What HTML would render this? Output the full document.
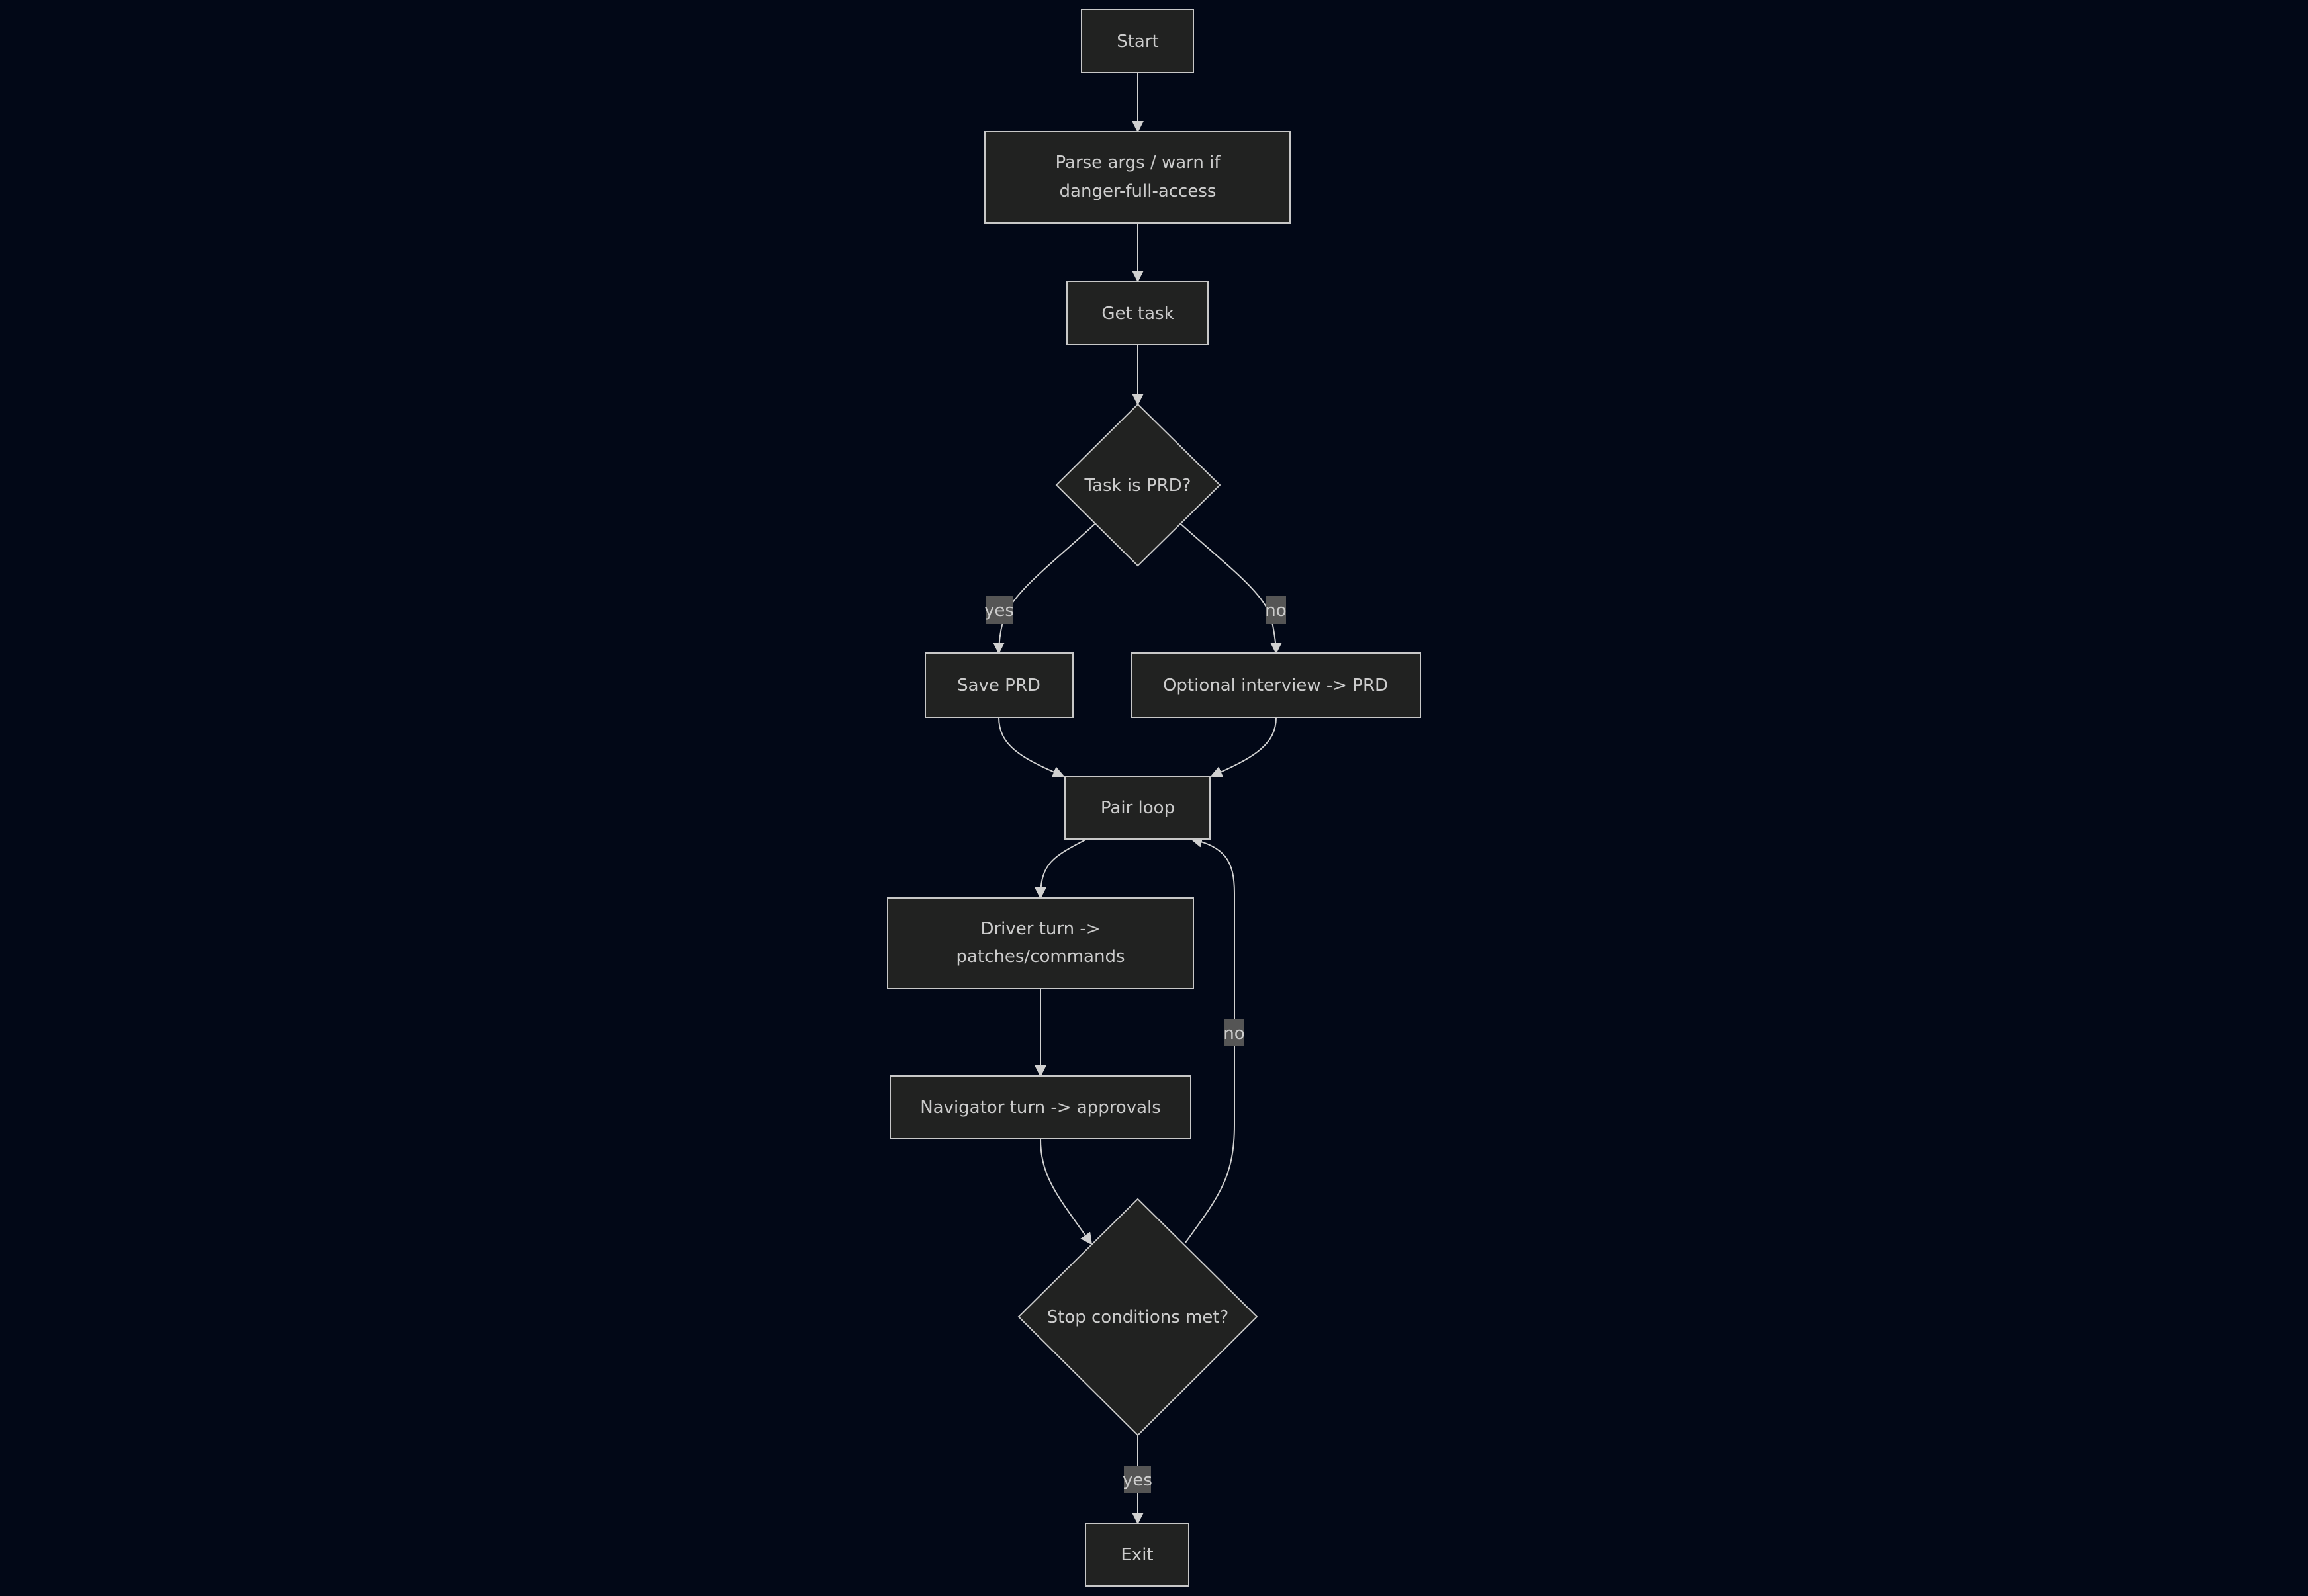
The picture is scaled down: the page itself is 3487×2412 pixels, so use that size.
<!DOCTYPE html>
<html><head><meta charset="utf-8"><style>
html,body{margin:0;padding:0;background:#020817;}
svg{display:block}
text{font-family:"DejaVu Sans","Liberation Sans",sans-serif;fill:#cccccc;font-size:26px;}
.n{fill:#212221;stroke:#c8c8c8;stroke-width:2}
.e{fill:none;stroke:#d0d0d0;stroke-width:2}
.l{fill:#555555}
</style></head><body>
<svg width="3487" height="2412" viewBox="0 0 3487 2412" xmlns="http://www.w3.org/2000/svg">
<defs><marker id="a" viewBox="0 0 10 10" refX="10" refY="5" markerWidth="9" markerHeight="9" markerUnits="userSpaceOnUse" orient="auto"><path d="M0,0L10,5L0,10z" fill="#d0d0d0"/></marker>
<marker id="b" viewBox="0 0 10 10" refX="9" refY="5" markerWidth="18" markerHeight="18" markerUnits="userSpaceOnUse" orient="auto"><path d="M0,0L10,5L0,10z" fill="#d0d0d0"/></marker></defs>
<rect width="3487" height="2412" fill="#020817"/>
<!-- edges -->
<path class="e" d="M1719 110 L1719 199" marker-end="url(#b)"/>
<path class="e" d="M1719 337 L1719 425" marker-end="url(#b)"/>
<path class="e" d="M1719 521 L1719 611" marker-end="url(#b)"/>
<path class="e" d="M1654 792 C1580 860 1525 900 1515 940 C1510 960 1509 975 1509 987" marker-end="url(#b)"/>
<path class="e" d="M1784 792 C1860 860 1915 900 1922 940 C1926 960 1928 975 1928 987" marker-end="url(#b)"/>
<path class="e" d="M1509 1084 C1509 1125 1540 1145 1607 1173" marker-end="url(#b)"/>
<path class="e" d="M1928 1084 C1928 1125 1895 1145 1830 1173" marker-end="url(#b)"/>
<path class="e" d="M1642 1268 C1590 1295 1572 1305 1572 1357" marker-end="url(#b)"/>
<path class="e" d="M1572 1494 L1572 1626" marker-end="url(#b)"/>
<path class="e" d="M1572 1721 C1572 1780 1600 1810 1649 1880" marker-end="url(#b)"/>
<path class="e" d="M1791 1878 C1840 1810 1865 1780 1865 1700 L1865 1350 C1865 1300 1850 1280 1800 1268" marker-end="url(#b)"/>
<path class="e" d="M1719 2169 L1719 2302" marker-end="url(#b)"/>
<!-- edge labels -->
<rect class="l" x="1489" y="901" width="41" height="42"/><text x="1509.5" y="931" text-anchor="middle">yes</text>
<rect class="l" x="1912" y="901" width="31" height="42"/><text x="1927.5" y="931" text-anchor="middle">no</text>
<rect class="l" x="1849" y="1540" width="31" height="41"/><text x="1864.5" y="1570" text-anchor="middle">no</text>
<rect class="l" x="1698" y="2215" width="41" height="42"/><text x="1718.5" y="2245" text-anchor="middle">yes</text>
<!-- nodes -->
<rect class="n" x="1634" y="14" width="169" height="96"/><text x="1719" y="71" text-anchor="middle">Start</text>
<rect class="n" x="1488" y="199" width="461" height="138"/><text x="1719" y="254" text-anchor="middle">Parse args / warn if</text><text x="1719" y="297" text-anchor="middle">danger-full-access</text>
<rect class="n" x="1612" y="425" width="213" height="96"/><text x="1719" y="482" text-anchor="middle">Get task</text>
<polygon class="n" points="1719,611 1843,733 1719,855 1596,733"/><text x="1719" y="742" text-anchor="middle">Task is PRD?</text>
<rect class="n" x="1398" y="987" width="223" height="97"/><text x="1509" y="1044" text-anchor="middle">Save PRD</text>
<rect class="n" x="1709" y="987" width="437" height="97"/><text x="1927" y="1044" text-anchor="middle">Optional interview -&gt; PRD</text>
<rect class="n" x="1609" y="1173" width="219" height="95"/><text x="1719" y="1229" text-anchor="middle">Pair loop</text>
<rect class="n" x="1341" y="1357" width="462" height="137"/><text x="1572" y="1412" text-anchor="middle">Driver turn -&gt;</text><text x="1572" y="1454" text-anchor="middle">patches/commands</text>
<rect class="n" x="1345" y="1626" width="454" height="95"/><text x="1572" y="1682" text-anchor="middle">Navigator turn -&gt; approvals</text>
<polygon class="n" points="1719,1812 1899,1990 1719,2169 1539,1990"/><text x="1719" y="1999" text-anchor="middle">Stop conditions met?</text>
<rect class="n" x="1640" y="2302" width="156" height="95"/><text x="1718" y="2358" text-anchor="middle">Exit</text>
</svg>
</body></html>
